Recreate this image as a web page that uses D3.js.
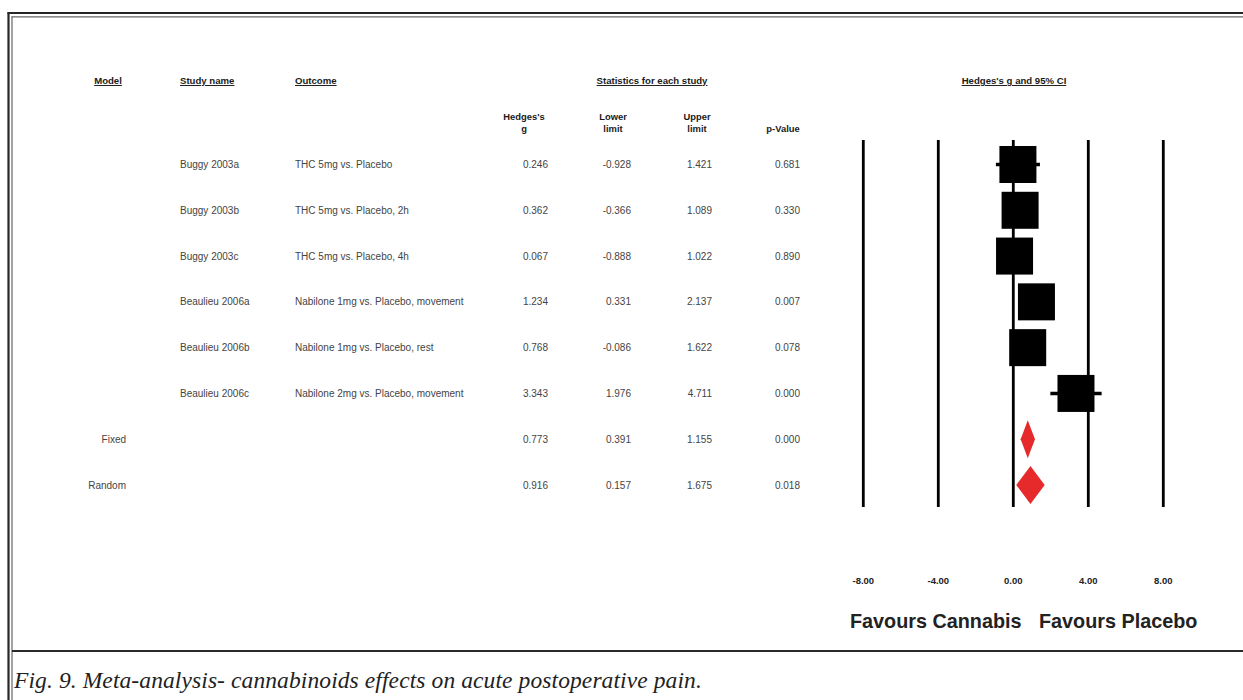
<!DOCTYPE html>
<html>
<head>
<meta charset="utf-8">
<script src="https://cdn.jsdelivr.net/npm/d3@7"></script>
<style>
  html, body { margin: 0; padding: 0; background: #fff; }
  svg { display: block; }
  text { font-family: Arial, "Liberation Sans", sans-serif; }
</style>
</head>
<body>
<svg id="chart" width="1243" height="700"></svg>
<script>
// Forest plot: cannabinoids vs placebo, acute postoperative pain (Hedges's g, 95% CI)
const models    = ["", "", "", "", "", "", "Fixed", "Random"];
const studies   = ["Buggy 2003a", "Buggy 2003b", "Buggy 2003c", "Beaulieu 2006a", "Beaulieu 2006b", "Beaulieu 2006c", "", ""];
const outcomes  = ["THC 5mg vs. Placebo", "THC 5mg vs. Placebo, 2h", "THC 5mg vs. Placebo, 4h",
                   "Nabilone 1mg vs. Placebo, movement", "Nabilone 1mg vs. Placebo, rest",
                   "Nabilone 2mg vs. Placebo, movement", "", ""];
const hedgesG   = [0.246, 0.362, 0.067, 1.234, 0.768, 3.343, 0.773, 0.916];
const lowerCI   = [-0.928, -0.366, -0.888, 0.331, -0.086, 1.976, 0.391, 0.157];
const upperCI   = [1.421, 1.089, 1.022, 2.137, 1.622, 4.711, 1.155, 1.675];
const pValues   = [0.681, 0.330, 0.890, 0.007, 0.078, 0.000, 0.000, 0.018];
const axisTicks = [-8, -4, 0, 4, 8];
const favourLabels = ["Favours Cannabis", "Favours Placebo"];

const rows = d3.range(hedgesG.length).map(i => ({
  id: i, model: models[i], study: studies[i], outcome: outcomes[i],
  g: hedgesG[i], lo: lowerCI[i], hi: upperCI[i], p: pValues[i],
  pooled: models[i] !== ""
}));

// plain hyphen-minus for negative numbers
const locale = d3.formatLocale({ decimal: ".", thousands: ",", grouping: [3], currency: ["", ""], minus: "-" });
const fmt3 = locale.format(".3f");
const fmt2 = locale.format(".2f");

const svg = d3.select("#chart");
const W = 1243, H = 700;

// ---- frame (double rule on top and left, caption band at the bottom)
const frame = svg.append("g");
frame.append("line").attr("x1", 8.5).attr("x2", 8.5).attr("y1", 12.5).attr("y2", H)
  .attr("stroke", "#262626").attr("stroke-width", 2.2);
frame.append("line").attr("x1", 7.4).attr("x2", W).attr("y1", 13).attr("y2", 13)
  .attr("stroke", "#262626").attr("stroke-width", 2.2);
frame.append("line").attr("x1", 12).attr("x2", 12).attr("y1", 16.5).attr("y2", H)
  .attr("stroke", "#666").attr("stroke-width", 1.2);
frame.append("line").attr("x1", 11.4).attr("x2", W).attr("y1", 16.8).attr("y2", 16.8)
  .attr("stroke", "#666").attr("stroke-width", 1.2);
frame.append("line").attr("x1", 12).attr("x2", W).attr("y1", 651).attr("y2", 651)
  .attr("stroke", "#2a2a2a").attr("stroke-width", 2);

svg.append("text")
  .attr("x", 14).attr("y", 688)
  .style("font-family", "'Liberation Serif', 'DejaVu Serif', serif")
  .style("font-style", "italic")
  .style("font-size", "23.5px")
  .style("letter-spacing", "0.1px")
  .attr("fill", "#222")
  .text("Fig. 9. Meta-analysis- cannabinoids effects on acute postoperative pain.");

// ---- scales
const y = d3.scalePoint().domain(rows.map(d => d.id)).range([164.5, 485]);
const x = d3.scaleLinear().domain([-8, 8]).range([863.3, 1163.3]);

// ---- column headers
const hdr = svg.append("g").attr("fill", "#1a1a1a")
  .style("font-weight", "bold").style("font-size", "9.6px")
  .style("text-decoration", "underline");
hdr.append("text").attr("x", 108).attr("y", 84).attr("text-anchor", "middle").text("Model");
hdr.append("text").attr("x", 180).attr("y", 84).text("Study name");
hdr.append("text").attr("x", 295).attr("y", 84).text("Outcome");
hdr.append("text").attr("x", 652).attr("y", 84).attr("text-anchor", "middle").text("Statistics for each study");
hdr.append("text").attr("x", 1014).attr("y", 84).attr("text-anchor", "middle").text("Hedges's g and 95% CI");

const sub = svg.append("g").attr("fill", "#1a1a1a")
  .style("font-weight", "bold").style("font-size", "9.4px").attr("text-anchor", "middle");
const subHeads = [
  { x: 524, lines: ["Hedges's", "g"] },
  { x: 613, lines: ["Lower", "limit"] },
  { x: 697, lines: ["Upper", "limit"] },
  { x: 783, lines: ["", "p-Value"] }
];
subHeads.forEach(h => {
  h.lines.forEach((t, k) => {
    if (t) sub.append("text").attr("x", h.x).attr("y", 120 + k * 12).text(t);
  });
});

// ---- table body
const body = svg.append("g").attr("fill", "#444").style("font-size", "10px");
const rowG = body.selectAll("g.row").data(rows).join("g")
  .attr("class", "row")
  .attr("transform", d => `translate(0,${y(d.id) + 3.5})`);
rowG.append("text").attr("x", 126).attr("text-anchor", "end").text(d => d.model);
rowG.append("text").attr("x", 180).text(d => d.study);
rowG.append("text").attr("x", 295).text(d => d.outcome);
const numCols = [
  { x: 548, key: "g" },
  { x: 631, key: "lo" },
  { x: 712, key: "hi" },
  { x: 800, key: "p" }
];
numCols.forEach(c => {
  rowG.append("text").attr("x", c.x).attr("text-anchor", "end").text(d => fmt3(d[c.key]));
});

// ---- forest plot
const plot = svg.append("g");
plot.selectAll("line.grid").data(axisTicks).join("line")
  .attr("class", "grid")
  .attr("x1", d => x(d)).attr("x2", d => x(d))
  .attr("y1", 140).attr("y2", 507)
  .attr("stroke", "#000").attr("stroke-width", 2.8);

const studyRows = rows.filter(d => !d.pooled);
const pooledRows = rows.filter(d => d.pooled);
const box = 37;

plot.selectAll("line.ci").data(studyRows).join("line")
  .attr("class", "ci")
  .attr("x1", d => x(d.lo)).attr("x2", d => x(d.hi))
  .attr("y1", d => y(d.id)).attr("y2", d => y(d.id))
  .attr("stroke", "#000").attr("stroke-width", 3.4);

plot.selectAll("rect.est").data(studyRows).join("rect")
  .attr("class", "est")
  .attr("x", d => x(d.g) - box / 2).attr("y", d => y(d.id) - box / 2)
  .attr("width", box).attr("height", box)
  .attr("fill", "#000");

plot.selectAll("path.pool").data(pooledRows).join("path")
  .attr("class", "pool")
  .attr("d", d => {
    const cy = y(d.id), h = 19;
    return `M${x(d.lo)},${cy}L${x(d.g)},${cy - h}L${x(d.hi)},${cy}L${x(d.g)},${cy + h}Z`;
  })
  .attr("fill", "#e6292b");

// tick labels
plot.selectAll("text.tick").data(axisTicks).join("text")
  .attr("class", "tick")
  .attr("x", d => x(d)).attr("y", 584)
  .attr("text-anchor", "middle")
  .style("font-weight", "bold").style("font-size", "9.5px")
  .attr("fill", "#222")
  .text(d => fmt2(d));

// favours labels
const fav = svg.append("g").style("font-weight", "bold").style("font-size", "19.8px").attr("fill", "#222");
fav.append("text").attr("x", 850).attr("y", 627.5).text(favourLabels[0]);
fav.append("text").attr("x", 1039).attr("y", 627.5).text(favourLabels[1]);
</script>
</body>
</html>
